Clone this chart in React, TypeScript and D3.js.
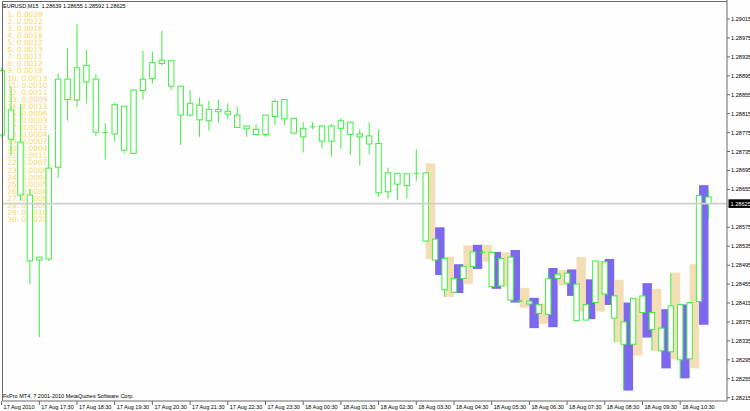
import React from 'react';
import * as d3 from 'd3';

// ---------- data ----------
const opens = [1.28906,1.28823,1.28755,1.28643,1.28512,1.28508,1.28702,1.28888,1.28844,1.28917,
1.28888,1.28776,1.28772,1.28831,1.28731,1.28864,1.28889,1.28921,1.28927,1.28873,
1.28812,1.28833,1.28800,1.28824,1.28820,1.28812,1.28789,1.28782,1.28771,1.28809,
1.28845,1.28805,1.28766,1.28787,1.28789,1.28757,1.28784,1.28797,1.28772,1.28768,
1.28752,1.28650,1.28689,1.28663,1.28688,1.28690,1.28550,1.28509,1.28438,1.28467,
1.28492,1.28521,1.28522,1.28451,1.28512,1.28420,1.28419,1.28412,1.28391,1.28467,
1.28478,1.28455,1.28379,1.28416,1.28502,1.28430,1.28375,1.28328,1.28430,1.28395,
1.28362,1.28312,1.28412,1.28297,1.28418,1.28639];

const highs = [1.28912,1.28873,1.28835,1.28656,1.28512,1.28770,1.28900,1.28954,1.29004,1.28950,
1.28899,1.28795,1.28838,1.28831,1.28867,1.28948,1.28946,1.28990,1.28928,1.28873,
1.28865,1.28849,1.28842,1.28845,1.28837,1.28830,1.28789,1.28793,1.28812,1.28845,
1.28845,1.28805,1.28797,1.28797,1.28791,1.28793,1.28805,1.28797,1.28782,1.28797,
1.28782,1.28701,1.28690,1.28688,1.28740,1.28691,1.28550,1.28509,1.28467,1.28492,
1.28523,1.28527,1.28522,1.28509,1.28512,1.28423,1.28419,1.28412,1.28466,1.28476,
1.28478,1.28455,1.28412,1.28504,1.28502,1.28430,1.28375,1.28425,1.28430,1.28395,
1.28362,1.28478,1.28412,1.28416,1.28642,1.28655];

const lows = [1.28766,1.28728,1.28631,1.28455,1.28343,1.28504,1.28679,1.28800,1.28829,1.28837,
1.28768,1.28719,1.28756,1.28731,1.28730,1.28845,1.28879,1.28917,1.28866,1.28749,
1.28809,1.28766,1.28779,1.28796,1.28804,1.28786,1.28766,1.28769,1.28766,1.28791,
1.28791,1.28774,1.28733,1.28782,1.28741,1.28724,1.28741,1.28728,1.28705,1.28730,
1.28640,1.28635,1.28633,1.28636,1.28673,1.28545,1.28506,1.28428,1.28438,1.28467,
1.28492,1.28518,1.28450,1.28451,1.28421,1.28417,1.28413,1.28393,1.28391,1.28467,
1.28457,1.28378,1.28379,1.28416,1.28434,1.28332,1.28230,1.28328,1.28395,1.28314,
1.28314,1.28312,1.28256,1.28297,1.28418,1.28592];

const closes = [1.28770,1.28761,1.28643,1.28504,1.28506,1.28700,1.28888,1.28845,1.28912,1.28882,
1.28776,1.28774,1.28834,1.28738,1.28865,1.28888,1.28923,1.28928,1.28873,1.28812,
1.28837,1.28802,1.28824,1.28819,1.28814,1.28786,1.28783,1.28771,1.28812,1.28841,
1.28804,1.28774,1.28784,1.28788,1.28757,1.28789,1.28800,1.28771,1.28766,1.28751,
1.28648,1.28690,1.28666,1.28688,1.28690,1.28546,1.28506,1.28443,1.28467,1.28492,
1.28523,1.28523,1.28450,1.28509,1.28421,1.28418,1.28413,1.28393,1.28466,1.28476,
1.28457,1.28378,1.28412,1.28504,1.28434,1.28383,1.28328,1.28425,1.28395,1.28359,
1.28314,1.28409,1.28295,1.28416,1.28642,1.28625];

// overlay histogram, starting at bar 45
const overlayStart = 45;
const overlayKind = ["W","P","W","P","W","P","W","P","W","P",
"W","P","W","P","W","P","W","P","W","P",
"W","P","W","P","W","P","W","P","W","P"];
const overlayHigh = [1.28710,1.28575,1.28513,1.28497,1.28537,1.28538,1.28538,1.28523,1.28522,1.28527,
1.28447,1.28426,1.28414,1.28489,1.28485,1.28486,1.28512,1.28465,1.28504,1.28508,
1.28464,1.28416,1.28425,1.28457,1.28445,1.28402,1.28479,1.28412,1.28497,1.28664];
const overlayLow = [1.28508,1.28474,1.28428,1.28436,1.28455,1.28487,1.28502,1.28445,1.28450,1.28416,
1.28405,1.28362,1.28371,1.28364,1.28452,1.28430,1.28397,1.28381,1.28397,1.28411,
1.28332,1.28230,1.28304,1.28342,1.28314,1.28277,1.28296,1.28256,1.28277,1.28369];

const timeTickBars = [0,4,8,12,16,20,24,28,32,36,40,44,48,52,56,60,64,68,72];
const timeTickLabels = ["17 Aug 2010","17 Aug 17:30","17 Aug 18:30","17 Aug 19:30","17 Aug 20:30",
"17 Aug 21:30","17 Aug 22:30","17 Aug 23:30","18 Aug 00:30","18 Aug 01:30","18 Aug 02:30",
"18 Aug 03:30","18 Aug 04:30","18 Aug 05:30","18 Aug 06:30","18 Aug 07:30","18 Aug 08:30",
"18 Aug 09:30","18 Aug 10:30"];

const priceTicks = [1.29015,1.28975,1.28935,1.28895,1.28855,1.28815,1.28775,1.28735,1.28695,1.28655,
1.28575,1.28535,1.28495,1.28455,1.28415,1.28375,1.28335,1.28295,1.28255,1.28215];

const levelValues = ["0.0029","0.0022","0.0016","0.0018","0.0012","0.0013","0.0011","0.0012","0.0019","0.0013",
"0.0010","0.0011","0.0009","0.0013","0.0006","0.0003","0.0013","0.0004","0.0007","0.0004",
"0.0011","0.0007","0.0006","0.0004","0.0005","0.0008","0.0006","0.0006","0.0010","0.0020"];

const symbolTitle = "EURUSD,M15";
const headerValues = ["1.28639","1.28655","1.28592","1.28625"];
const bidPrice = 1.28625;
const footerText = "FxPro MT4, ? 2001-2010 MetaQuotes Software Corp.";

// ---------- component ----------
export default function App() {
  const n = opens.length;
  const x = d3.scaleLinear().domain([0, n - 1]).range([1.6, 1.6 + (n - 1) * 9.425]);
  const y = d3.scaleLinear().domain([1.28215, 1.29015]).range([397.7, 19]);
  const font = "'Liberation Sans', Arial, sans-serif";
  const levelFont = "'DejaVu Sans', Verdana, sans-serif";
  const green = "#40EE40";
  const bodyW = 5.4;
  const left = 2.5, top = 1.5, right = 727, bottom = 401;

  return (
    <svg width={750} height={411} style={{ position: 'absolute', left: 0, top: 0, display: 'block' }}>
      <rect x={0} y={0} width={750} height={411} fill="#FDFEFD" />

      {/* level text list */}
      <g fontFamily={levelFont} fontSize={7.4} fill="#F8D867">
        {levelValues.map((v, i) => (
          <text key={i} x={7.3} y={16.8 + i * 7.08}>{`${i + 1}: ${v}`}</text>
        ))}
      </g>

      {/* overlay histogram */}
      <g>
        {overlayKind.map((k, j) => {
          const i = overlayStart + j;
          const y0 = y(overlayHigh[j]);
          const y1 = y(overlayLow[j]);
          return (
            <rect key={j} x={x(i)} y={y0} width={x(i + 1) - x(i)} height={Math.max(1, y1 - y0)}
              fill={k === "W" ? "#F3DEB6" : "#7B68EE"} />
          );
        })}
      </g>

      {/* candles */}
      <g>
        {opens.map((o, i) => {
          const c = closes[i];
          const cx = x(i);
          const bt = y(Math.max(o, c));
          const bb = y(Math.min(o, c));
          return (
            <g key={i}>
              <line x1={cx} x2={cx} y1={y(highs[i])} y2={y(lows[i])} stroke={green} strokeWidth={1} />
              {bb - bt < 1.2 ? (
                <line x1={cx - bodyW / 2} x2={cx + bodyW / 2} y1={(bt + bb) / 2} y2={(bt + bb) / 2} stroke={green} strokeWidth={1} />
              ) : (
                <rect x={cx - bodyW / 2} y={bt} width={bodyW} height={bb - bt} fill="#FFFFFF" stroke={green} strokeWidth={1} />
              )}
            </g>
          );
        })}
      </g>

      {/* bid line */}
      <line x1={left} x2={right} y1={y(bidPrice)} y2={y(bidPrice)} stroke="#CFCFCF" strokeWidth={1.6} />

      {/* frame */}
      <g stroke="#6A6A6A" strokeWidth={1} fill="none">
        <line x1={left} x2={right} y1={top} y2={top} />
        <line x1={left} x2={left} y1={top} y2={bottom} />
        <line x1={right} x2={right} y1={0} y2={bottom} />
        <line x1={left} x2={right} y1={bottom} y2={bottom} />
      </g>

      {/* price axis */}
      <g fontFamily={font} fontSize={5.6} fill="#000">
        {priceTicks.map((p, i) => (
          <g key={i}>
            <line x1={right} x2={right + 3} y1={y(p)} y2={y(p)} stroke="#6A6A6A" strokeWidth={1} />
            <text x={731} y={y(p) + 2}>{p.toFixed(5)}</text>
          </g>
        ))}
      </g>
      <rect x={728.5} y={y(bidPrice) - 4.3} width={21.5} height={8.6} fill="#000" />
      <text x={730.5} y={y(bidPrice) + 2} fontFamily={font} fontSize={5.6} fill="#FFF">{bidPrice.toFixed(5)}</text>

      {/* time axis */}
      <g fontFamily={font} fontSize={5.5} fill="#000">
        {timeTickBars.map((b, i) => (
          <g key={i}>
            <line x1={x(b)} x2={x(b)} y1={bottom} y2={bottom + 4} stroke="#6A6A6A" strokeWidth={1} />
            <text x={x(b) + 2} y={408.5}>{timeTickLabels[i]}</text>
          </g>
        ))}
      </g>

      {/* header & footer */}
      <text x={3} y={8.3} fontFamily={font} fontSize={5.5} fill="#000" style={{ whiteSpace: 'pre' }}>
        {`${symbolTitle}  ${headerValues.join(' ')}`}
      </text>
      <text x={3} y={398.3} fontFamily={font} fontSize={5.5} fill="#000">{footerText}</text>
    </svg>
  );
}
